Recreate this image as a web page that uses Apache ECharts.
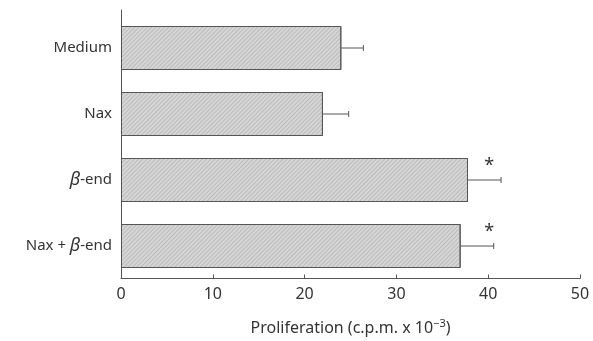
<!DOCTYPE html>
<html>
<head>
<meta charset="utf-8">
<script src="https://cdn.jsdelivr.net/npm/echarts@6/dist/echarts.min.js"></script>
<style>html,body{margin:0;padding:0;background:#fff;}#c{width:593px;height:341px;}</style>
</head>
<body>
<div id="c"></div>
<script>
const categories = ['Medium', 'Nax', 'β-end', 'Nax + β-end'];
const meanValues = [24, 22, 37.8, 37];
const errorUpper = [26.4, 24.8, 41.4, 40.6];
const asteriskAt = [null, null, 40.1, 40.1];
const xTicks = [0, 10, 20, 30, 40, 50];

const FONT = 'Noto Sans';
const chart = echarts.init(document.getElementById('c'));
const errData = categories.map((c, i) => [i, meanValues[i], errorUpper[i], asteriskAt[i]]);

chart.setOption({
  animation: false,
  backgroundColor: '#fff',
  grid: [
    { left: 121, right: 13, top: 10, bottom: 55 },
    { left: 121, right: 13, top: 15, height: 264 }
  ],
  xAxis: [
    {
      gridIndex: 0, type: 'value', min: xTicks[0], max: xTicks[xTicks.length - 1], interval: 10,
      axisLine: { show: true, lineStyle: { color: '#555', width: 1 } },
      axisTick: { show: true, inside: true, length: 4, lineStyle: { color: '#555' } },
      axisLabel: { color: '#333', fontFamily: FONT, fontSize: 16, margin: 8 },
      splitLine: { show: false },
      name: '{a|Proliferation (c.p.m. x 10}{s|−3}{a|)}',
      nameLocation: 'middle', nameGap: 40,
      nameTextStyle: {
        rich: {
          a: { color: '#333', fontFamily: FONT, fontSize: 16 },
          s: { color: '#333', fontFamily: FONT, fontSize: 11, verticalAlign: 'top', padding: [0, 0, 8, 0] }
        }
      }
    },
    { gridIndex: 1, type: 'value', min: 0, max: 50, show: false }
  ],
  yAxis: [
    {
      gridIndex: 0, type: 'value', min: 0, max: 1,
      axisLine: { show: true, lineStyle: { color: '#555', width: 1 } },
      axisTick: { show: false }, axisLabel: { show: false }, splitLine: { show: false }
    },
    {
      gridIndex: 1, type: 'category', data: categories, inverse: true,
      axisLine: { show: false }, axisTick: { show: false },
      axisLabel: {
        margin: 9,
        formatter: function (v) {
          return v.split('β').map(function (p) { return p ? '{t|' + p + '}' : ''; }).join('{b|β}');
        },
        rich: {
          t: { color: '#333', fontFamily: FONT, fontSize: 15 },
          b: { color: '#333', fontFamily: FONT, fontSize: 18, fontStyle: 'italic' }
        }
      }
    }
  ],
  series: [
    {
      type: 'bar', xAxisIndex: 1, yAxisIndex: 1, data: meanValues, barWidth: 44,
      itemStyle: {
        color: '#d6d6d6', borderColor: '#555', borderWidth: 1,
        decal: { symbol: 'rect', symbolSize: 1, dashArrayX: [1, 0], dashArrayY: [1, 2], rotation: -Math.PI / 4, color: 'rgba(90,90,90,0.22)' }
      }
    },
    {
      type: 'custom', xAxisIndex: 1, yAxisIndex: 1, data: errData,
      renderItem: function (params, api) {
        const y = api.coord([0, api.value(0)])[1];
        const x1 = api.coord([api.value(1), api.value(0)])[0];
        const x2 = api.coord([api.value(2), api.value(0)])[0];
        const children = [
          { type: 'line', shape: { x1: x1, y1: y, x2: x2, y2: y }, style: { stroke: '#555', lineWidth: 1 } },
          { type: 'line', shape: { x1: x2, y1: y - 3, x2: x2, y2: y + 3 }, style: { stroke: '#555', lineWidth: 1 } }
        ];
        const a = errData[params.dataIndex][3];
        if (a != null) {
          const ax = api.coord([a, api.value(0)])[0];
          children.push({ type: 'text', style: { text: '*', x: ax, y: y - 14, fill: '#333', font: '18px ' + FONT, align: 'center', verticalAlign: 'middle' } });
        }
        return { type: 'group', children: children };
      }
    }
  ]
});
</script>
</body>
</html>
